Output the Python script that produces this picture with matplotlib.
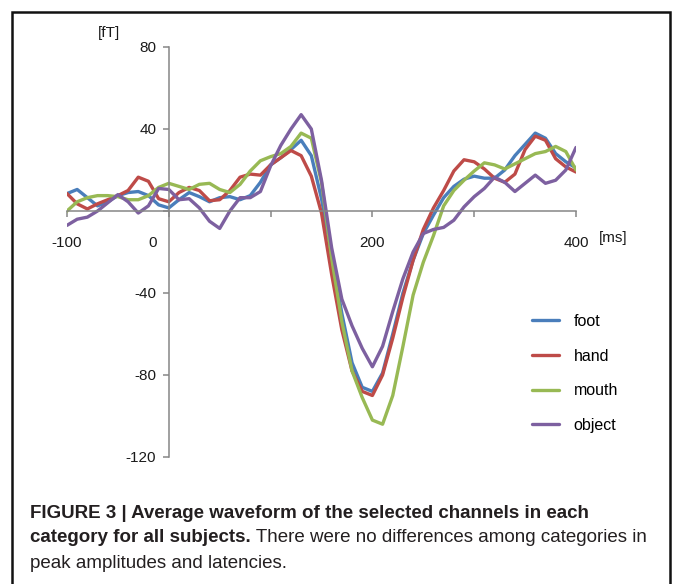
import matplotlib
matplotlib.use("Agg")
import matplotlib.pyplot as plt
import matplotlib.transforms as mtransforms
from matplotlib.patches import Rectangle

# time axis [ms] and average waveforms [fT] per category
time_ms = list(range(-100, 401, 10))

foot = [8.5, 10.5, 6.5, 2.5, 4.5, 7.5, 9, 9.5, 7.5, 3,
        1.5, 5.5, 9, 7, 4.5, 6.5, 7, 5.5, 7.5, 14,
        22.5, 26, 30, 34.5, 27, 6, -22, -50, -74, -86,
        -88, -79, -60, -40, -24, -11, -2, 6.5, 12, 15.5,
        17, 16, 16, 20, 27, 32.5, 38, 35.5, 28, 24, 21]
hand = [8.5, 3.5, 1, 3.5, 5.5, 7.5, 10, 16.5, 14.5, 6,
        4.5, 9, 11.5, 10, 5, 5.5, 10, 16.5, 18, 17.5,
        22.5, 26, 29.5, 27, 17, -1, -31, -58, -78, -88,
        -90, -80, -62, -42, -24, -9, 1.5, 10, 19.5, 25,
        24, 20.5, 16, 14, 18, 30, 36.5, 34.5, 25.5, 21.5, 19]
mouth = [0, 4.5, 6.5, 7.5, 7.5, 7, 5.5, 5.5, 7.5, 11.5,
         13.5, 12, 10.5, 13, 13.5, 10.5, 9, 13, 19.5, 24.5,
         26.5, 28, 31.5, 38, 35.5, 14, -23, -54, -78, -91,
         -102, -104, -90, -66, -41, -25, -12, 2.5, 10, 15,
         19.5, 23.5, 22.5, 20.5, 23, 25.5, 28, 29, 31.5, 29, 20]
obj = [-7, -4, -3, 0, 4, 8, 4.5, -1, 2.5, 11,
       10.5, 5.5, 6, 1.5, -5, -8.5, 0, 6.5, 6.5, 9.5,
       22, 32, 40, 47, 40, 15, -18, -43, -56, -67,
       -76, -66, -49, -33, -20, -11, -9, -8, -4.5, 2,
       7, 11, 16.5, 14, 9.5, 13.5, 17.5, 13.5, 15, 20, 31]

series = [("foot", foot, "#4a7ebb"),
          ("hand", hand, "#be4b48"),
          ("mouth", mouth, "#98b954"),
          ("object", obj, "#7d60a0")]

y_ticks = [80, 40, 0, -40, -80, -120]
y_labels = ["80", "40", "", "-40", "-80", "-120"]
x_ticks = [-100, 0, 100, 200, 300, 400]
x_labels = ["-100", "0", "", "200", "", "400"]

plt.rcParams["font.family"] = ["Liberation Sans", "DejaVu Sans"]

W, H = 673, 584
fig = plt.figure(figsize=(W / 100, H / 100), dpi=100)
ax = fig.add_axes([67 / W, 1 - 457 / H, (576 - 67) / W, (457 - 47) / H])

for name, vals, col in series:
    ax.plot(time_ms, vals, color=col, lw=2.4, label=name, solid_capstyle="round")

ax.set_xlim(-100, 400)
ax.set_ylim(-120, 80)
for s in ["top", "right"]:
    ax.spines[s].set_visible(False)
ax.spines["left"].set_position(("data", 0))
ax.spines["bottom"].set_position(("data", 0))
for s in ["left", "bottom"]:
    ax.spines[s].set_color("#868686")
    ax.spines[s].set_linewidth(1.1)

ax.set_yticks(y_ticks)
ax.set_yticklabels(y_labels)
ax.set_xticks(x_ticks)
ax.set_xticklabels(x_labels)
ax.tick_params(axis="both", colors="#868686", labelcolor="#1a1a1a",
               labelsize=11, length=4, width=1.1, direction="out")
ax.tick_params(axis="x", pad=14)
ax.tick_params(axis="y", pad=5)
# the "0" label sits left of the vertical axis
zero_lbl = ax.get_xticklabels()[1]
zero_lbl.set_transform(zero_lbl.get_transform()
                       + mtransforms.ScaledTranslation(-0.16, 0, fig.dpi_scale_trans))

fig.text(109 / W, 1 - 33 / H, "[fT]", fontsize=11, ha="center", va="center", color="#1a1a1a")
fig.text(613 / W, 1 - 238 / H, "[ms]", fontsize=11, ha="center", va="center", color="#1a1a1a")

ax.legend(loc="upper left", bbox_to_anchor=(532 / W, 1 - 314 / H),
          bbox_transform=fig.transFigure, frameon=False, fontsize=11.5,
          handlelength=1.7, handletextpad=0.9, labelspacing=1.23,
          borderpad=0, borderaxespad=0)

# frame around the figure panel
fig.patches.append(Rectangle((12 / W, -0.05), (670 - 12) / W, 1.05 - 12 / H,
                             transform=fig.transFigure, fill=False,
                             edgecolor="#111111", lw=1.8))

# caption, sized so the first line spans the same width as in the figure
cap = "#231f20"
l1 = fig.text(30 / W, 1 - 513 / H,
              "FIGURE 3 | Average waveform of the selected channels in each",
              fontsize=13, fontweight="bold", color=cap, va="center")
fig.canvas.draw()
r = fig.canvas.get_renderer()
fs = 13 * 558 / l1.get_window_extent(r).width
l1.set_fontsize(fs)
t2 = fig.text(30 / W, 1 - 538 / H, "category for all subjects.",
              fontsize=fs, fontweight="bold", color=cap, va="center")
ax.annotate(" There were no differences among categories in",
            xy=(1, 0), xycoords=t2, va="bottom", ha="left",
            fontsize=fs, color=cap, annotation_clip=False)
fig.text(30 / W, 1 - 563 / H, "peak amplitudes and latencies.",
         fontsize=fs, color=cap, va="center")

fig.savefig("out.png", dpi=100)
